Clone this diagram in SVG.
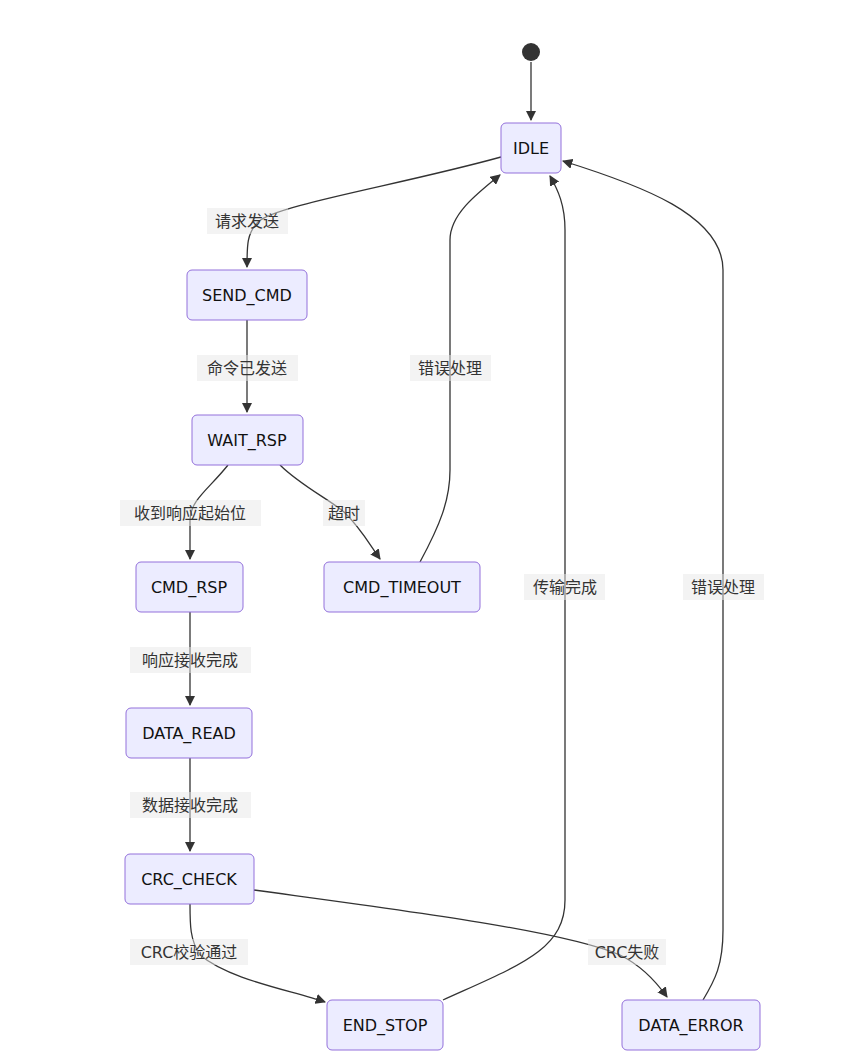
<svg xmlns="http://www.w3.org/2000/svg" width="858" height="1059" viewBox="0 0 858 1059">
<style>
.n rect{fill:#ECECFF;stroke:#9370DB;stroke-width:1}
.n text{font-family:"DejaVu Sans","Liberation Sans",sans-serif;font-size:16px;fill:#111;text-anchor:middle;dominant-baseline:central}
.e path{fill:none;stroke:#333;stroke-width:1.3}
.l rect{fill:#E8E8E8;opacity:0.5}
.l text{font-family:"DejaVu Sans","Noto Sans CJK SC",sans-serif;font-size:16px;fill:#333;text-anchor:middle;dominant-baseline:central}
</style>
<defs><marker id="a" viewBox="0 0 10 10" refX="9" refY="5" markerWidth="8" markerHeight="8" orient="auto"><path d="M0,0L10,5L0,10z" fill="#333"/></marker></defs>
<rect width="858" height="1059" fill="#fff"/>
<g class="e">
<path d="M531,62L531,120" marker-end="url(#a)"/>
<path d="M501,157C400,185 275,205 258,222C247,233 247,245 247,267" marker-end="url(#a)"/>
<path d="M247,320L247,412" marker-end="url(#a)"/>
<path d="M228,465C210,488 190,500 190,520L190,559" marker-end="url(#a)"/>
<path d="M280,465C300,485 330,500 344,512C360,527 370,545 380,559" marker-end="url(#a)"/>
<path d="M420,562C440,525 450,500 450,470L450,240C450,215 475,195 500,175" marker-end="url(#a)"/>
<path d="M190,612L190,705" marker-end="url(#a)"/>
<path d="M190,758L190,851" marker-end="url(#a)"/>
<path d="M190,904C190,925 190,940 200,955C230,980 290,990 325,1002" marker-end="url(#a)"/>
<path d="M254,890C400,910 560,930 620,955C640,965 655,980 667,997" marker-end="url(#a)"/>
<path d="M443,1000C520,965 565,950 565,900L565,230C565,205 558,190 550,176" marker-end="url(#a)"/>
<path d="M703,1000C715,980 723,965 723,930L723,270C723,215 640,185 563,161" marker-end="url(#a)"/>
</g>
<circle cx="531" cy="52" r="9" fill="#333"/>
<g class="n" id="IDLE"><rect x="501" y="123" width="60" height="50" rx="5"/><text x="531" y="148">IDLE</text></g>
<g class="n" id="SEND_CMD"><rect x="187" y="270" width="120" height="50" rx="5"/><text x="247" y="295">SEND_CMD</text></g>
<g class="n" id="WAIT_RSP"><rect x="192" y="415" width="111" height="50" rx="5"/><text x="247" y="440">WAIT_RSP</text></g>
<g class="n" id="CMD_RSP"><rect x="136" y="562" width="107" height="50" rx="5"/><text x="189" y="587">CMD_RSP</text></g>
<g class="n" id="CMD_TIMEOUT"><rect x="324" y="562" width="156" height="50" rx="5"/><text x="402" y="587">CMD_TIMEOUT</text></g>
<g class="n" id="DATA_READ"><rect x="126" y="708" width="126" height="50" rx="5"/><text x="189" y="733">DATA_READ</text></g>
<g class="n" id="CRC_CHECK"><rect x="125" y="854" width="129" height="50" rx="5"/><text x="189" y="879">CRC_CHECK</text></g>
<g class="n" id="END_STOP"><rect x="327" y="1000" width="116" height="50" rx="5"/><text x="385" y="1025">END_STOP</text></g>
<g class="n" id="DATA_ERROR"><rect x="622" y="1000" width="138" height="50" rx="5"/><text x="691" y="1025">DATA_ERROR</text></g>
<g class="l">
<rect x="207" y="208" width="81" height="26"/><text x="247" y="221">请求发送</text>
<rect x="197" y="355" width="101" height="26"/><text x="247" y="368">命令已发送</text>
<rect x="120" y="500" width="141" height="26"/><text x="190" y="513">收到响应起始位</text>
<rect x="323" y="500" width="42" height="26"/><text x="344" y="513">超时</text>
<rect x="410" y="355" width="81" height="26"/><text x="450" y="368">错误处理</text>
<rect x="130" y="647" width="121" height="26"/><text x="190" y="660">响应接收完成</text>
<rect x="130" y="792" width="121" height="26"/><text x="190" y="805">数据接收完成</text>
<rect x="130" y="939" width="118" height="26"/><text x="189" y="952">CRC校验通过</text>
<rect x="588" y="939" width="78" height="26"/><text x="627" y="952">CRC失败</text>
<rect x="524" y="574" width="81" height="26"/><text x="565" y="587">传输完成</text>
<rect x="683" y="574" width="81" height="26"/><text x="723" y="587">错误处理</text>
</g>
</svg>
